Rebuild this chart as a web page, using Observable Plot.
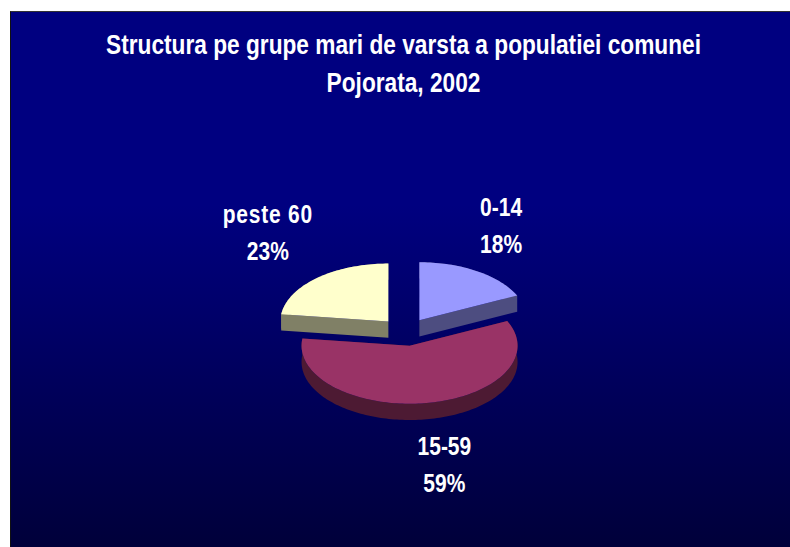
<!DOCTYPE html>
<html><head><meta charset="utf-8">
<script src="https://cdn.jsdelivr.net/npm/d3@7"></script>
<script src="https://cdn.jsdelivr.net/npm/@observablehq/plot@0.6"></script>
<style>
html,body{margin:0;padding:0;background:#fff;width:790px;height:547px;overflow:hidden}
#panel{position:absolute;left:10px;top:11px;width:780px;height:536px;box-sizing:border-box;border-top:1px solid #333;border-left:1px solid #111;
 background:linear-gradient(180deg,#000080 0%,#000080 36%,#00003a 100%);overflow:hidden}
#title{height:99px;padding-top:15px;box-sizing:border-box;text-align:center;color:#fff;font:bold 27px/37.5px "Liberation Sans",Arial,sans-serif;transform:translateX(3px) scaleX(0.84)}
svg{display:block;background:transparent!important}
</style></head><body>
<div id="panel"><div id="title">Structura pe grupe mari de varsta a populatiei comunei<br>Pojorata, 2002</div><div id="chart"></div></div>
<script>
const categories = ["0-14", "15-59", "peste 60"];
const shares = [18, 59, 23];
const topColors = ["#9999ff", "#993366", "#ffffcc"];
const sideColors = ["#4d4d80", "#4d1a33", "#808066"];

const explode = 0.24, depth = 0.28;
const labelAt = {"0-14": [0.885, 1.88], "15-59": [0.36, -2.24], "peste 60": [-1.275, 1.76]};

const arcs = d3.pie().sort(null).value(d => d)(shares);
const topRings = [], sidePolys = [], labels = [];
arcs.forEach((a, i) => {
  const mid = (a.startAngle + a.endAngle) / 2;
  const cx = explode * Math.sin(mid), cy = explode * Math.cos(mid);
  const n = Math.max(2, Math.round((a.endAngle - a.startAngle) * 40));
  const rim = d3.range(n + 1).map(k => {
    const t = a.startAngle + (a.endAngle - a.startAngle) * k / n;
    return [cx + Math.sin(t), cy + Math.cos(t)];
  });
  const apex = [cx, cy];
  [apex, ...rim, apex].forEach(p => topRings.push({slice: categories[i], x: p[0], y: p[1], color: topColors[i]}));
  const push = (id, pts) => [...pts, ...pts.slice().reverse().map(p => [p[0], p[1] - depth])].forEach(p =>
    sidePolys.push({id: i + id, x: p[0], y: p[1], color: sideColors[i]}));
  push("rim", rim);
  push("cutA", [apex, rim[0]]);
  push("cutB", [apex, rim[n]]);
  labels.push({x: labelAt[categories[i]][0], y: labelAt[categories[i]][1], text: categories[i] + "\n" + shares[i] + "%"});
});

const cxPx = 394, cyPx = 220.5, rx = 108, ry = 58;
const chart = Plot.plot({
  width: 779, height: 436, margin: 0,
  style: {background: "transparent"},
  x: {domain: [-1, 1], range: [cxPx - rx, cxPx + rx], axis: null},
  y: {domain: [-1, 1], range: [cyPx + ry, cyPx - ry], axis: null},
  marks: [
    Plot.line(sidePolys, {x: "x", y: "y", z: "id", fill: "color", stroke: "none", curve: "linear"}),
    Plot.line(topRings, {x: "x", y: "y", z: "slice", fill: "color", stroke: "none", curve: "linear"}),
    Plot.text(labels, {x: "x", y: "y", text: "text", fill: "#fff", fontSize: 25, fontWeight: "bold",
      lineHeight: 1.46, fontFamily: '"Liberation Sans",Arial,sans-serif'})
  ]
});
chart.querySelectorAll("text").forEach(t => {
  t.setAttribute("transform", (t.getAttribute("transform") || "") + " scale(0.84,1)");
  const first = t.querySelector("tspan");
  if (first && first.textContent.startsWith("peste")) first.setAttribute("letter-spacing", "0.9");
});
document.getElementById("chart").append(chart);
</script>
</body></html>
